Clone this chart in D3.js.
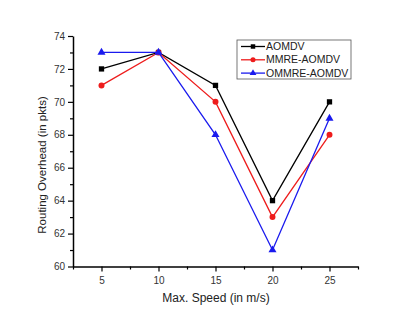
<!DOCTYPE html>
<html><head><meta charset="utf-8">
<script src="https://cdn.jsdelivr.net/npm/d3@7"></script>
<style>body{margin:0;background:#fff}svg{display:block}text{font-family:"Liberation Sans",Arial,sans-serif}</style>
</head><body>
<svg id="c" width="415" height="320"></svg>
<script>
const speeds = [5, 10, 15, 20, 25];
const aomdv = [72, 73, 71, 64, 70];
const mmre = [71, 73, 70, 63, 68];
const ommre = [73, 73, 68, 61, 69];
const seriesNames = ["AOMDV", "MMRE-AOMDV", "OMMRE-AOMDV"];
const yTicks = [60, 62, 64, 66, 68, 70, 72, 74];

const svg = d3.select("#c");
const x = d3.scaleLinear().domain([2.5, 27.5]).range([73, 358]);
const y = d3.scaleLinear().domain([60, 74]).range([266.5, 36]);

// axes
const xAxis = svg.append("g").attr("transform", `translate(0,${y(60)})`);
xAxis.call(d3.axisBottom(x).tickValues(speeds).tickSize(5).tickSizeOuter(0));
xAxis.append("g").call(d3.axisBottom(x).tickValues([2.5,7.5,12.5,17.5,22.5,27.5]).tickSize(3).tickFormat("")).select(".domain").remove();
const yAxis = svg.append("g").attr("transform", `translate(${x(2.5)},0)`);
yAxis.call(d3.axisLeft(y).tickValues(yTicks).tickSize(5).tickSizeOuter(0));
yAxis.append("g").call(d3.axisLeft(y).tickValues([61,63,65,67,69,71,73]).tickSize(3).tickFormat("")).select(".domain").remove();
svg.selectAll(".domain").attr("stroke", "#000").attr("stroke-width", 1.5);
svg.selectAll(".tick line").attr("stroke", "#000").attr("stroke-width", 1.2);
svg.selectAll(".tick text").attr("font-size", 10).attr("fill", "#333").attr("font-family", "Liberation Sans, Arial, sans-serif");
xAxis.selectAll(".tick text").attr("dy", "0.9em");

svg.append("text").attr("x", 216).attr("y", 302).attr("text-anchor", "middle")
  .attr("font-size", 12).attr("fill", "#222").text("Max. Speed (in m/s)");
svg.append("text").attr("transform", `translate(46,${(36+266)/2 + 14}) rotate(-90)`).attr("text-anchor", "middle")
  .attr("font-size", 11.5).attr("fill", "#222").text("Routing Overhead (in pkts)");

const series = [
  {name: seriesNames[0], vals: aomdv, color: "#000000", sym: d3.symbolSquare},
  {name: seriesNames[1], vals: mmre, color: "#ee1c1c", sym: d3.symbolCircle},
  {name: seriesNames[2], vals: ommre, color: "#1a1aee", sym: d3.symbolTriangle}
];
const line = d3.line().x((d,i) => x(speeds[i])).y(d => y(d));
series.forEach(s => {
  svg.append("path").datum(s.vals).attr("d", line).attr("fill", "none")
    .attr("stroke", s.color).attr("stroke-width", 1.3);
  svg.selectAll(null).data(s.vals).enter().append("path")
    .attr("d", d3.symbol().type(s.sym).size(28))
    .attr("transform", (d,i) => `translate(${x(speeds[i])},${y(d)})`)
    .attr("fill", s.color);
});

// legend
const lg = svg.append("g");
lg.append("rect").attr("x", 237).attr("y", 40).attr("width", 114).attr("height", 39)
  .attr("fill", "#fff").attr("stroke", "#555").attr("stroke-width", 0.8);
series.forEach((s, i) => {
  const ly = 46.5 + i * 13.3;
  lg.append("line").attr("x1", 241).attr("x2", 265).attr("y1", ly).attr("y2", ly)
    .attr("stroke", s.color).attr("stroke-width", 1.3);
  lg.append("path").attr("d", d3.symbol().type(s.sym).size(20)).attr("transform", `translate(253,${ly})`).attr("fill", s.color);
  lg.append("text").attr("x", 266).attr("y", ly).attr("dy", "0.35em").attr("font-size", 10.5).attr("fill", "#222").text(s.name);
});
</script>
</body></html>
